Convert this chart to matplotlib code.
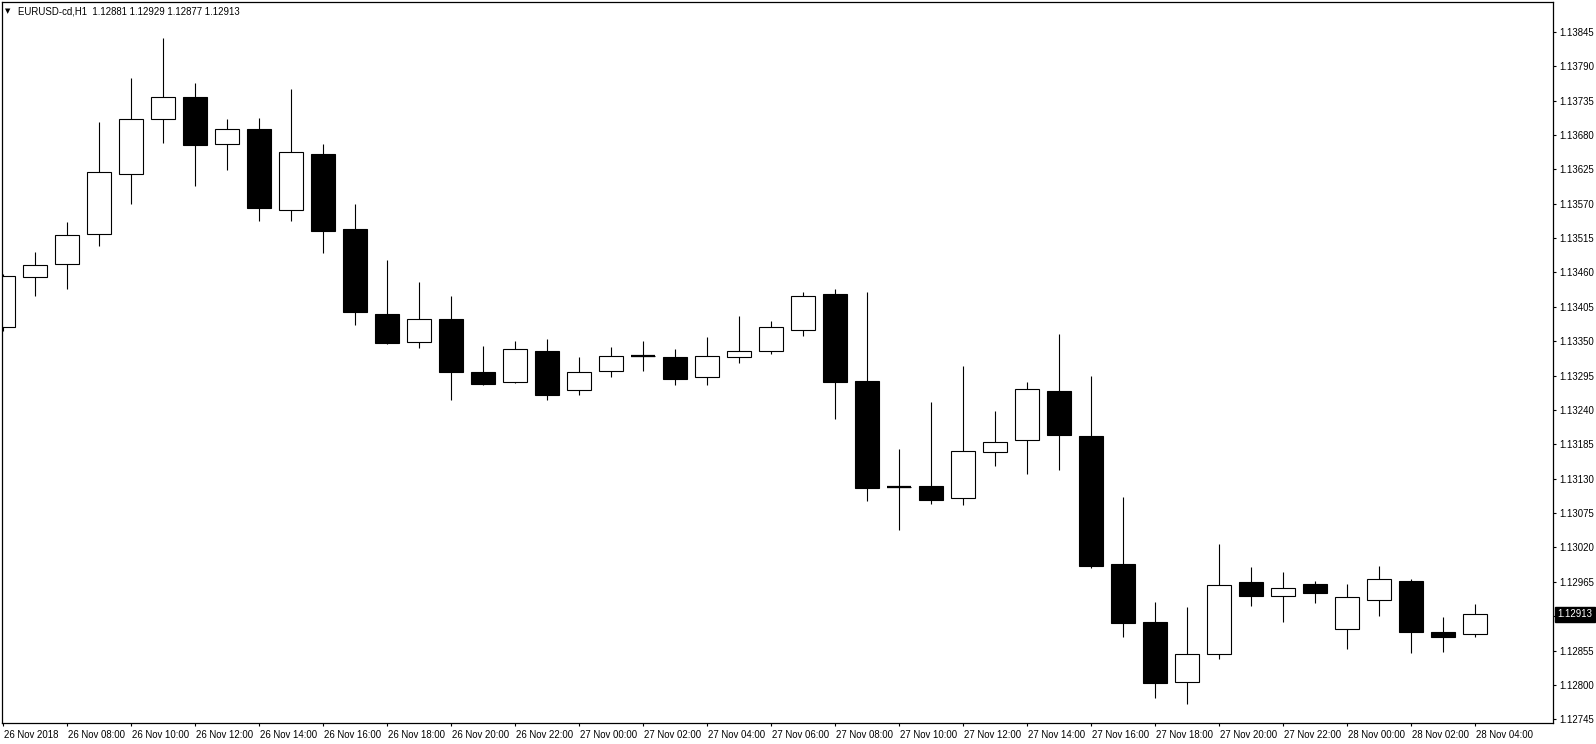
import matplotlib
matplotlib.use('Agg')
import matplotlib.pyplot as plt
import matplotlib.transforms as mtransforms
import numpy as np

plt.rcParams['font.family'] = ['Liberation Sans', 'DejaVu Sans']

# EURUSD H1 candles, 26 Nov 06:00 .. 28 Nov 04:00
opens = [1.13372, 1.13452, 1.13474, 1.13522, 1.13618, 1.13706, 1.13741, 1.13666,
         1.13689, 1.13560, 1.13649, 1.13529, 1.13394, 1.13348, 1.13385, 1.13300,
         1.13284, 1.13334, 1.13272, 1.13303, 1.13327, 1.13325, 1.13292, 1.13324,
         1.13335, 1.13368, 1.13426, 1.13286, 1.13116, 1.13119, 1.13099, 1.13172,
         1.13192, 1.13271, 1.13199, 1.12993, 1.12901, 1.12805, 1.12850, 1.12965,
         1.12942, 1.12961, 1.12890, 1.12936, 1.12967, 1.12884, 1.12881]
highs = [1.13457, 1.13492, 1.13540, 1.13700, 1.13771, 1.13835, 1.13763, 1.13705,
         1.13707, 1.13753, 1.13665, 1.13569, 1.13480, 1.13444, 1.13422, 1.13342,
         1.13351, 1.13353, 1.13324, 1.13340, 1.13351, 1.13337, 1.13356, 1.13391,
         1.13383, 1.13428, 1.13434, 1.13428, 1.13177, 1.13252, 1.13311, 1.13238,
         1.13284, 1.13362, 1.13295, 1.13101, 1.12932, 1.12924, 1.13025, 1.12989,
         1.12981, 1.12967, 1.12961, 1.12991, 1.12969, 1.12908, 1.12929]
lows = [1.13367, 1.13422, 1.13433, 1.13502, 1.13569, 1.13667, 1.13598, 1.13624,
        1.13542, 1.13542, 1.13491, 1.13376, 1.13345, 1.13339, 1.13256, 1.13280,
        1.13283, 1.13256, 1.13264, 1.13292, 1.13302, 1.13280, 1.13280, 1.13315,
        1.13329, 1.13358, 1.13225, 1.13095, 1.13048, 1.13089, 1.13088, 1.13150,
        1.13137, 1.13144, 1.12987, 1.12876, 1.12779, 1.12769, 1.12841, 1.12927,
        1.12900, 1.12931, 1.12857, 1.12910, 1.12851, 1.12852, 1.12877]
closes = [1.13455, 1.13472, 1.13520, 1.13620, 1.13705, 1.13740, 1.13664, 1.13689,
          1.13563, 1.13652, 1.13526, 1.13397, 1.13347, 1.13386, 1.13300, 1.13281,
          1.13338, 1.13264, 1.13301, 1.13327, 1.13327, 1.13289, 1.13327, 1.13335,
          1.13372, 1.13423, 1.13284, 1.13115, 1.13116, 1.13096, 1.13175, 1.13189,
          1.13274, 1.13200, 1.12991, 1.12899, 1.12803, 1.12849, 1.12960, 1.12943,
          1.12955, 1.12947, 1.12940, 1.12969, 1.12884, 1.12876, 1.12913]

xlabels = ['26 Nov 2018', '26 Nov 08:00', '26 Nov 10:00', '26 Nov 12:00', '26 Nov 14:00',
           '26 Nov 16:00', '26 Nov 18:00', '26 Nov 20:00', '26 Nov 22:00', '27 Nov 00:00',
           '27 Nov 02:00', '27 Nov 04:00', '27 Nov 06:00', '27 Nov 08:00', '27 Nov 10:00',
           '27 Nov 12:00', '27 Nov 14:00', '27 Nov 16:00', '27 Nov 18:00', '27 Nov 20:00',
           '27 Nov 22:00', '28 Nov 00:00', '28 Nov 02:00', '28 Nov 04:00']
yticks = [1.12745, 1.12800, 1.12855, 1.12910, 1.12965, 1.13020, 1.13075, 1.13130,
          1.13185, 1.13240, 1.13295, 1.13350, 1.13405, 1.13460, 1.13515, 1.13570,
          1.13625, 1.13680, 1.13735, 1.13790, 1.13845]
ylabels = ['1.12745', '1.12800', '1.12855', '', '1.12965', '1.13020', '1.13075', '1.13130',
           '1.13185', '1.13240', '1.13295', '1.13350', '1.13405', '1.13460', '1.13515', '1.13570',
           '1.13625', '1.13680', '1.13735', '1.13790', '1.13845']

o = np.array(opens); h = np.array(highs); l = np.array(lows); c = np.array(closes)
x = np.arange(len(o))
up = c >= o

fig = plt.figure(figsize=(15.96, 7.44), dpi=100)
ax = fig.add_axes([2/1596, 20.7/744, 1551.3/1596, 721.3/744])

ax.vlines(x, l, h, color='black', lw=0.8, zorder=1)
ax.bar(x[up], (c - o)[up], 0.75, bottom=o[up], facecolor='white', edgecolor='black', lw=0.8, zorder=2)
ax.bar(x[~up], (o - c)[~up], 0.75, bottom=c[~up], facecolor='black', edgecolor='black', lw=0.8, zorder=2)
doji = np.isclose(o, c)
ax.hlines(o[doji], x[doji] - 0.375, x[doji] + 0.375, color='black', lw=1.6, zorder=3)

ax.set_xlim(-0.04, 48.44)
ax.set_ylim(1.127386, 1.138927)

ax.yaxis.tick_right()
ax.set_yticks(yticks)
ax.set_yticklabels(ylabels)
ax.set_xticks(x[::2])
ax.set_xticklabels(xlabels, ha='left')
ax.tick_params(axis='both', direction='out', length=2.3, width=0.8, labelsize=6.9, colors='black')
ax.tick_params(axis='y', pad=2)
ax.tick_params(axis='x', pad=2.5)
for lbl in ax.get_xticklabels():
    lbl.set_transform(lbl.get_transform() + mtransforms.ScaledTranslation(0.01, 0, fig.dpi_scale_trans))
for s in ax.spines.values():
    s.set_linewidth(0.9)
    s.set_color('black')

# current price box
trans = mtransforms.blended_transform_factory(ax.transAxes, ax.transData)
ax.text(1.0, c[-1], f'{c[-1]:.5f}', transform=trans + mtransforms.ScaledTranslation(0.045, 0, fig.dpi_scale_trans),
        ha='left', va='center', color='white', fontsize=6.9,
        bbox=dict(facecolor='black', edgecolor='black', boxstyle='square,pad=0.25'), clip_on=False)

# header
fig.text(5/1596, 1 - 11/744, '\u25bc', fontsize=5, va='center', ha='left', family=['DejaVu Sans'])
fig.text(18/1596, 1 - 11/744, f'EURUSD-cd,H1  {o[-1]:.5f} {h[-1]:.5f} {l[-1]:.5f} {c[-1]:.5f}',
         fontsize=6.9, va='center', ha='left')

fig.savefig('out.png', dpi=100, facecolor='white')
